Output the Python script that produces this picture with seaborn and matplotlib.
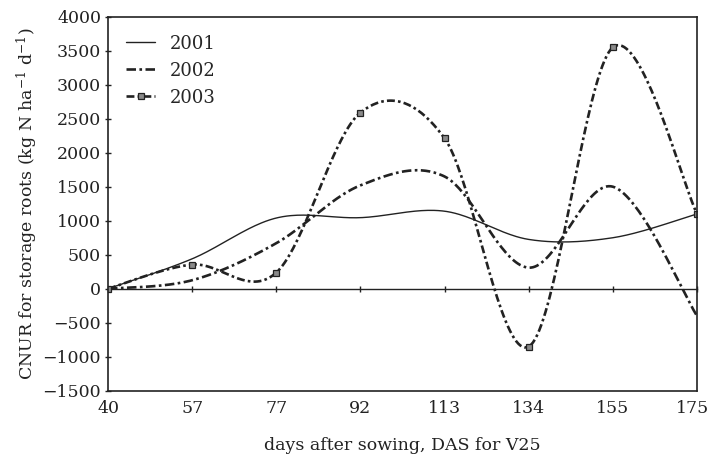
import numpy as np
import pandas as pd
import matplotlib
matplotlib.use("Agg")
import matplotlib.pyplot as plt
import matplotlib.transforms as mtransforms
import seaborn as sns

# --- Data ---
das_labels = ["40", "57", "77", "92", "113", "134", "155", "175"]
cnur_2001 = [0, 440, 1040, 1045, 1140, 725, 750, 1100]
cnur_2002 = [0, 125, 670, 1520, 1650, 310, 1500, -400]
cnur_2003 = [0, 355, 238, 2590, 2210, -850, 3550, 1100]

INK = "#222222"


def smooth_curve(values, n=40):
    # Excel-style smoothed line: cubic Bezier through the points,
    # control points from neighbours (Catmull-Rom, tension 1/6)
    pts = np.column_stack([np.arange(len(values), dtype=float), np.asarray(values, dtype=float)])
    xs, ys = [], []
    for i in range(len(pts) - 1):
        p0 = pts[max(i - 1, 0)]
        p1 = pts[i]
        p2 = pts[i + 1]
        p3 = pts[min(i + 2, len(pts) - 1)]
        c1 = p1 + (p2 - p0) / 6.0
        c2 = p2 - (p3 - p1) / 6.0
        t = np.linspace(0, 1, n, endpoint=(i == len(pts) - 2))[:, None]
        seg = ((1 - t) ** 3) * p1 + 3 * ((1 - t) ** 2) * t * c1 + 3 * (1 - t) * t ** 2 * c2 + t ** 3 * p2
        xs.append(seg[:, 0])
        ys.append(seg[:, 1])
    return np.concatenate(xs), np.concatenate(ys), n


sns.set_style("ticks")
plt.rcParams["font.family"] = ["DejaVu Serif"]
plt.rcParams["mathtext.fontset"] = "dejavuserif"
plt.rcParams["axes.unicode_minus"] = True

fig, ax = plt.subplots(figsize=(7.12, 4.63), dpi=100)
fig.subplots_adjust(left=0.1517, right=0.979, top=0.964, bottom=0.156)

series = [
    ("2001", cnur_2001, dict(linestyle="-", linewidth=1.0)),
    ("2002", cnur_2002, dict(linestyle=(0, (3.6, 1.3, 1.0, 1.3)), linewidth=1.9)),
    ("2003", cnur_2003, dict(linestyle=(0, (3.0, 1.2, 1.0, 1.2)), linewidth=1.9,
                             marker="s", markersize=5, markerfacecolor="#8a8a8a",
                             markeredgecolor=INK, markeredgewidth=0.9)),
]

for name, vals, style in series:
    xs, ys, n = smooth_curve(vals)
    df = pd.DataFrame({"x": xs, "y": ys})
    kw = dict(style)
    if "marker" in kw:
        kw["markevery"] = [i * n for i in range(len(vals) - 1)] + [len(xs) - 1]
    sns.lineplot(data=df, x="x", y="y", ax=ax, color=INK, label=name,
                 estimator=None, sort=False, **kw)

ymin, ymax = -1500, 4000
ax.set_xlim(0, len(das_labels) - 1)
ax.set_ylim(ymin, ymax)
ax.set_yticks(np.arange(ymin, ymax + 1, 500))
ax.set_xticks(range(len(das_labels)))
ax.set_xticklabels(das_labels)

ax.tick_params(axis="x", length=0, pad=7, labelsize=12.5, colors=INK)
ax.tick_params(axis="y", direction="inout", length=4, width=1, pad=3, labelsize=12.5, colors=INK)

# last category label sits at the figure edge, pull it in a little
last = ax.get_xticklabels()[-1]
last.set_transform(last.get_transform() + mtransforms.ScaledTranslation(-3 / 72, 0, fig.dpi_scale_trans))

for sp in ax.spines.values():
    sp.set_visible(True)
    sp.set_color(INK)
    sp.set_linewidth(1.2)

# zero line with the category ticks on it
zero_loc = (0 - ymin) / (ymax - ymin)
sec = ax.secondary_xaxis(zero_loc)
sec.set_xticks(range(len(das_labels)))
sec.tick_params(direction="inout", length=4, width=1, labelbottom=False, colors=INK)
sec.spines["bottom"].set_color(INK)
sec.spines["bottom"].set_linewidth(1.0)

ax.set_xlabel("days after sowing, DAS for V25", fontsize=12.5, color=INK, labelpad=14)
ax.set_ylabel(r"CNUR for storage roots (kg N ha$^{-1}$ d$^{-1}$)", fontsize=12.5, color=INK)
ax.yaxis.set_label_coords(-0.115, 0.5)

ax.legend(loc="upper left", bbox_to_anchor=(0.0, 1.0), frameon=False, fontsize=13,
          handlelength=1.6, handletextpad=0.8, labelspacing=0.5, borderaxespad=0.6)

fig.savefig("out.png", dpi=100)
